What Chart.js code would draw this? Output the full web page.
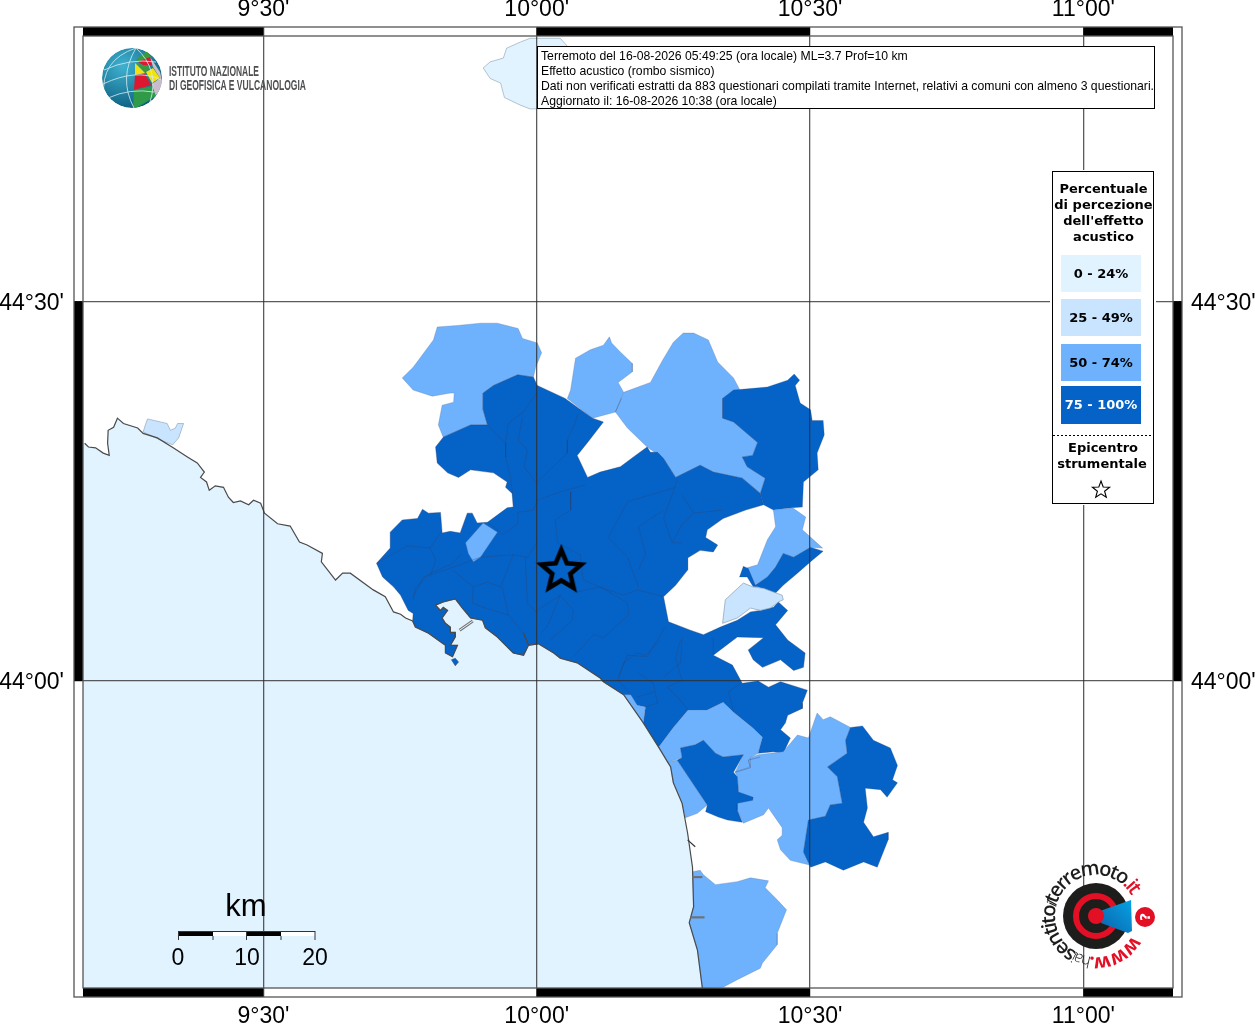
<!DOCTYPE html>
<html><head><meta charset="utf-8">
<style>html,body{margin:0;padding:0;background:#fff}#wrap{position:relative;width:1255px;height:1024px;overflow:hidden}canvas{position:absolute;left:0;top:0}svg{position:absolute;left:0;top:0}</style>
<script src="https://cdn.jsdelivr.net/npm/chart.js@4/dist/chart.umd.min.js"></script>
</head><body><div id="wrap"><canvas id="c" width="1255" height="1024"></canvas>
<svg width="1255" height="1024" viewBox="0 0 1255 1024" xmlns="http://www.w3.org/2000/svg">
<defs>
<radialGradient id="gl" cx="35%" cy="30%" r="80%"><stop offset="0" stop-color="#3fb2d0"/><stop offset="1" stop-color="#0a587a"/></radialGradient>
<clipPath id="glc"><circle cx="132" cy="78" r="30"/></clipPath>
<linearGradient id="cone" x1="0" y1="1" x2="1" y2="0"><stop offset="0" stop-color="#0b62ad"/><stop offset="1" stop-color="#06a3e3"/></linearGradient>
<path id="ring" d="M1132.2 935.2 A41 41 0 1 1 1133.2 898.7"/>
</defs>
<!-- INGV logo -->
<g clip-path="url(#glc)">
<circle cx="132" cy="78" r="30" fill="url(#gl)"/>
<polygon points="150,57 160,72 163,85 155,97 152,84 160,78 153,67" fill="#c9bccb"/>
<polygon points="136,60 147,51 151,57 138,62" fill="#3a9a3e"/>
<polygon points="138,62 150,57 152,65 143,65" fill="#dd1730"/>
<polygon points="137,63 143,65 151,67 145,72" fill="#3a9a3e"/>
<polygon points="135,63 145,73 135,75" fill="#f1e20c"/>
<polygon points="146,72 153,68 160,78 152,83" fill="#f1e20c"/>
<polygon points="135,75 145,74 151,85 134,90" fill="#dd1730"/>
<polygon points="134,90 152,86 156,96 133,110" fill="#2f9a47"/>
<g fill="none" stroke="#d8eef2" stroke-width="0.8">
<path d="M104 70 Q130 58 156 62M103 84 Q120 76 134 75 Q150 74 161 80M108 98 Q130 88 154 92"/>
<path d="M136 48 Q118 78 134 108M136 48 Q100 60 104 96M136 48 Q160 70 150 102"/></g>
</g>
<g fill="#4e4f51" font-family="'Liberation Sans Narrow','Liberation Sans'" font-size="14" font-weight="700">
<text x="169" y="76" textLength="90" lengthAdjust="spacingAndGlyphs">ISTITUTO NAZIONALE</text>
<text x="169" y="90" textLength="137" lengthAdjust="spacingAndGlyphs">DI GEOFISICA E VULCANOLOGIA</text>
</g>
<!-- info box -->
<rect x="537.5" y="46.5" width="617" height="62" fill="#fff" stroke="#000"/>
<g font-family="'Liberation Sans'" font-size="12.23" fill="#000">
<text x="541" y="60">Terremoto del 16-08-2026 05:49:25 (ora locale) ML=3.7 Prof=10 km</text>
<text x="541" y="75">Effetto acustico (rombo sismico)</text>
<text x="541" y="90" textLength="613" lengthAdjust="spacingAndGlyphs">Dati non verificati estratti da 883 questionari compilati tramite Internet, relativi a comuni con almeno 3 questionari.</text>
<text x="541" y="105">Aggiornato il: 16-08-2026 10:38 (ora locale)</text>
</g>
<!-- legend -->
<rect x="1050" y="170" width="106" height="335" fill="#fff"/>
<rect x="1052.5" y="171.5" width="101" height="332" fill="#fff" stroke="#000"/>
<g font-family="'DejaVu Sans'" font-size="13" font-weight="700" text-anchor="middle" fill="#000">
<text x="1103.5" y="193">Percentuale</text><text x="1103.5" y="209">di percezione</text><text x="1103.5" y="225">dell'effetto</text><text x="1103.5" y="241">acustico</text>
<rect x="1061" y="255" width="80" height="37" fill="#e1f3ff"/><text x="1101" y="278">0 - 24%</text>
<rect x="1061" y="299" width="80" height="37" fill="#c8e4ff"/><text x="1101" y="322">25 - 49%</text>
<rect x="1061" y="344" width="80" height="37" fill="#6eb1fd"/><text x="1101" y="367">50 - 74%</text>
<rect x="1061" y="386" width="80" height="38" fill="#0563c8"/><text x="1101" y="409" fill="#fff">75 - 100%</text>
<line x1="1053" x2="1153" y1="435.5" y2="435.5" stroke="#000" stroke-dasharray="2 2"/>
<text x="1103" y="452">Epicentro</text><text x="1102" y="468">strumentale</text>
</g>
<polygon points="1101,481 1103.2,487 1109.6,487.2 1104.6,491.2 1106.3,497.3 1101,493.8 1095.7,497.3 1097.4,491.2 1092.4,487.2 1098.8,487" fill="#fff" stroke="#000" stroke-width="1.1"/>
<!-- scale bar -->
<g>
<rect x="178" y="931" width="35" height="5" fill="#000"/><rect x="213" y="931" width="33" height="5" fill="#fff"/><rect x="246" y="931" width="35" height="5" fill="#000"/><rect x="281" y="931" width="34" height="5" fill="#fff"/>
<path d="M178.5 931V940M213 936V940M246.5 931V940M281 936V940M315 931V940M178 931.5H315" stroke="#333" fill="none"/>
<g font-family="'Liberation Sans'" font-size="23" text-anchor="middle" fill="#000"><text x="178" y="965">0</text><text x="247" y="965">10</text><text x="315" y="965">20</text>
<text x="246" y="916" font-size="31">km</text></g>
</g>
<!-- hai sentito logo -->
<circle cx="1096" cy="916" r="33" fill="#1d1d1b"/>
<circle cx="1096" cy="916" r="20" fill="none" stroke="#e30f25" stroke-width="6"/>
<polygon points="1100,911 1131,900 1132,931 1128,933 1101,923" fill="url(#cone)"/>
<circle cx="1096" cy="916" r="8" fill="#e30f25"/>
<circle cx="1145" cy="917" r="10" fill="#e30f25"/>
<text x="1145" y="922" font-family="'DejaVu Sans'" font-size="14" font-weight="700" text-anchor="middle" fill="#fff" transform="rotate(-90 1145 917)">?</text>
<text font-family="'Open Sans'" font-size="20" font-weight="600" fill="#1d1d1b"><textPath href="#ring" textLength="216" lengthAdjust="spacing"><tspan fill="#e30f25" font-weight="700">www.</tspan><tspan font-size="16" font-weight="300">hai</tspan>sentito<tspan font-size="14" font-style="italic" font-weight="400">il</tspan>terremoto<tspan fill="#e30f25">.it</tspan></textPath></text>
</svg></div>
<script>
// Map extent and graticule (degrees)
const lonRange = [9.170, 11.164];
const latRange = [43.596, 44.849];
const lonTicks = [9.5, 10, 10.5, 11];
const latTicks = [44, 44.5];

// Coastline, lon/lat
const coastline = [[9.173,44.313],[9.180,44.308],[9.193,44.307],[9.207,44.300],[9.218,44.297],[9.215,44.313],[9.216,44.330],[9.226,44.334],[9.233,44.346],[9.244,44.339],[9.270,44.333],[9.280,44.326],[9.306,44.320],[9.335,44.307],[9.361,44.295],[9.379,44.287],[9.392,44.275],[9.385,44.268],[9.396,44.262],[9.401,44.251],[9.412,44.257],[9.427,44.255],[9.436,44.242],[9.445,44.235],[9.458,44.237],[9.473,44.232],[9.482,44.238],[9.495,44.234],[9.502,44.221],[9.526,44.207],[9.549,44.204],[9.566,44.183],[9.580,44.179],[9.608,44.168],[9.606,44.157],[9.632,44.133],[9.645,44.142],[9.659,44.142],[9.701,44.120],[9.723,44.111],[9.738,44.091],[9.751,44.088],[9.760,44.083],[9.773,44.079],[9.778,44.071],[9.802,44.063],[9.827,44.050],[9.833,44.047],[9.833,44.037],[9.846,44.032],[9.855,44.047],[9.842,44.047],[9.851,44.058],[9.851,44.064],[9.842,44.064],[9.842,44.071],[9.833,44.076],[9.827,44.083],[9.837,44.093],[9.829,44.097],[9.824,44.093],[9.815,44.100],[9.829,44.104],[9.851,44.108],[9.864,44.096],[9.879,44.083],[9.901,44.080],[9.906,44.070],[9.928,44.058],[9.957,44.037],[9.976,44.034],[9.985,44.047],[9.976,44.063],[9.985,44.047],[10.003,44.049],[10.031,44.037],[10.043,44.030],[10.074,44.024],[10.116,44.004],[10.122,43.999],[10.159,43.982],[10.195,43.945],[10.223,43.913],[10.245,43.887],[10.250,43.866],[10.266,43.839],[10.276,43.800],[10.285,43.755],[10.287,43.703],[10.279,43.682],[10.294,43.646],[10.303,43.596]];
const seaCorners = [[9.170,43.596],[9.170,44.313]];

// Municipalities by perception class, lon/lat outlines
const lightestNorth = [[9.902,44.807],[9.915,44.815],[9.939,44.820],[9.945,44.833],[9.970,44.841],[9.988,44.846],[10.043,44.846],[10.058,44.834],[10.043,44.754],[9.988,44.753],[9.970,44.758],[9.941,44.768],[9.934,44.787],[9.915,44.793]];
const paleCoast = [[9.288,44.345],[9.312,44.341],[9.324,44.339],[9.330,44.330],[9.339,44.333],[9.343,44.339],[9.354,44.339],[9.345,44.320],[9.334,44.311],[9.312,44.317],[9.280,44.328],[9.284,44.337]];
const paleLake = [[10.378,44.129],[10.395,44.124],[10.415,44.122],[10.449,44.113],[10.451,44.107],[10.442,44.104],[10.427,44.096],[10.409,44.093],[10.391,44.096],[10.367,44.083],[10.340,44.076],[10.345,44.107]];
const midNW = [[9.818,44.466],[9.855,44.468],[9.897,44.471],[9.928,44.471],[9.966,44.464],[9.974,44.451],[10.001,44.445],[10.009,44.432],[9.998,44.413],[9.994,44.400],[9.965,44.403],[9.921,44.389],[9.902,44.379],[9.902,44.357],[9.910,44.337],[9.879,44.337],[9.829,44.321],[9.820,44.337],[9.827,44.363],[9.848,44.367],[9.849,44.379],[9.842,44.379],[9.809,44.375],[9.774,44.383],[9.754,44.399],[9.774,44.413],[9.811,44.449]];
const midNorth = [[10.056,44.372],[10.062,44.383],[10.071,44.425],[10.098,44.436],[10.122,44.442],[10.133,44.453],[10.137,44.445],[10.153,44.433],[10.175,44.418],[10.175,44.407],[10.149,44.393],[10.159,44.380],[10.144,44.354],[10.102,44.346]];
const midNE = [[10.159,44.380],[10.208,44.393],[10.230,44.422],[10.250,44.446],[10.268,44.458],[10.287,44.458],[10.314,44.449],[10.331,44.420],[10.360,44.399],[10.371,44.384],[10.340,44.372],[10.340,44.346],[10.360,44.341],[10.404,44.314],[10.395,44.297],[10.376,44.295],[10.385,44.282],[10.418,44.267],[10.409,44.247],[10.376,44.267],[10.323,44.275],[10.299,44.284],[10.254,44.268],[10.232,44.293],[10.202,44.308],[10.166,44.333],[10.144,44.354]];
const midEast = [[10.433,44.225],[10.468,44.228],[10.492,44.216],[10.486,44.199],[10.523,44.175],[10.501,44.176],[10.470,44.163],[10.451,44.168],[10.437,44.150],[10.422,44.137],[10.400,44.126],[10.385,44.149],[10.404,44.153],[10.422,44.186],[10.437,44.203]];
const midWest = [[9.902,44.208],[9.928,44.196],[9.897,44.163],[9.884,44.157],[9.875,44.168],[9.870,44.182]];
const midStrip = [[10.159,43.982],[10.172,43.982],[10.184,43.968],[10.199,43.966],[10.195,43.945]];
const midSouthA = [[10.223,43.913],[10.250,43.939],[10.277,43.962],[10.312,43.962],[10.341,43.972],[10.360,43.959],[10.396,43.938],[10.413,43.926],[10.405,43.905],[10.391,43.899],[10.391,43.887],[10.363,43.880],[10.378,43.903],[10.341,43.900],[10.327,43.905],[10.305,43.922],[10.290,43.916],[10.263,43.912],[10.266,43.899],[10.239,43.893]];
const midSouthB = [[10.239,43.893],[10.257,43.896],[10.312,43.837],[10.294,43.826],[10.272,43.820],[10.266,43.839],[10.250,43.866],[10.245,43.887]];
const midSouthC = [[10.363,43.880],[10.391,43.887],[10.391,43.899],[10.405,43.903],[10.451,43.907],[10.477,43.929],[10.497,43.925],[10.513,43.958],[10.524,43.949],[10.537,43.953],[10.574,43.939],[10.565,43.922],[10.568,43.905],[10.532,43.887],[10.550,43.874],[10.559,43.839],[10.537,43.837],[10.528,43.822],[10.497,43.817],[10.488,43.775],[10.499,43.758],[10.464,43.764],[10.446,43.778],[10.440,43.791],[10.449,43.797],[10.449,43.807],[10.424,43.833],[10.415,43.824],[10.378,43.813],[10.367,43.830],[10.367,43.839],[10.369,43.854],[10.367,43.874]];
const midSouthD = [[10.285,43.749],[10.299,43.751],[10.305,43.745],[10.327,43.732],[10.367,43.736],[10.391,43.741],[10.424,43.737],[10.418,43.728],[10.440,43.712],[10.457,43.699],[10.440,43.668],[10.440,43.653],[10.413,43.629],[10.409,43.622],[10.367,43.607],[10.341,43.597],[10.303,43.596],[10.294,43.646],[10.279,43.682],[10.287,43.703]];
const darkMain = [[9.921,44.389],[9.965,44.403],[9.994,44.400],[10.001,44.389],[10.052,44.372],[10.102,44.346],[10.122,44.341],[10.093,44.314],[10.074,44.297],[10.093,44.268],[10.116,44.275],[10.153,44.282],[10.177,44.295],[10.202,44.308],[10.208,44.301],[10.221,44.301],[10.232,44.293],[10.254,44.268],[10.299,44.284],[10.323,44.275],[10.376,44.267],[10.409,44.247],[10.415,44.232],[10.382,44.225],[10.341,44.214],[10.312,44.199],[10.309,44.189],[10.331,44.179],[10.323,44.170],[10.299,44.172],[10.276,44.162],[10.276,44.146],[10.254,44.126],[10.232,44.111],[10.241,44.078],[10.281,44.067],[10.305,44.061],[10.336,44.071],[10.367,44.080],[10.391,44.091],[10.409,44.093],[10.433,44.097],[10.442,44.104],[10.459,44.093],[10.437,44.074],[10.459,44.054],[10.491,44.037],[10.488,44.018],[10.470,44.014],[10.446,44.028],[10.413,44.018],[10.396,44.028],[10.387,44.041],[10.415,44.057],[10.367,44.058],[10.323,44.034],[10.358,44.021],[10.376,43.997],[10.405,44.000],[10.424,43.992],[10.446,43.999],[10.495,43.988],[10.486,43.971],[10.486,43.964],[10.459,43.955],[10.455,43.945],[10.446,43.936],[10.464,43.925],[10.451,43.905],[10.433,43.907],[10.405,43.905],[10.409,43.916],[10.413,43.926],[10.396,43.938],[10.360,43.959],[10.341,43.972],[10.312,43.962],[10.277,43.962],[10.250,43.939],[10.223,43.913],[10.195,43.945],[10.199,43.966],[10.184,43.968],[10.159,43.982],[10.122,43.999],[10.116,44.004],[10.074,44.024],[10.043,44.030],[10.031,44.037],[10.003,44.049],[9.985,44.047],[9.976,44.063],[9.985,44.047],[9.976,44.034],[9.957,44.037],[9.928,44.058],[9.906,44.070],[9.901,44.080],[9.879,44.083],[9.864,44.096],[9.851,44.108],[9.829,44.104],[9.815,44.100],[9.824,44.093],[9.829,44.097],[9.837,44.093],[9.827,44.083],[9.833,44.076],[9.842,44.071],[9.842,44.064],[9.851,44.064],[9.851,44.058],[9.842,44.047],[9.855,44.047],[9.846,44.032],[9.833,44.037],[9.833,44.047],[9.827,44.050],[9.802,44.063],[9.778,44.071],[9.773,44.079],[9.774,44.089],[9.765,44.093],[9.751,44.113],[9.738,44.124],[9.718,44.137],[9.707,44.155],[9.732,44.175],[9.732,44.196],[9.754,44.212],[9.782,44.214],[9.791,44.226],[9.802,44.221],[9.824,44.222],[9.827,44.195],[9.842,44.197],[9.860,44.195],[9.873,44.221],[9.882,44.221],[9.891,44.208],[9.910,44.209],[9.946,44.228],[9.957,44.229],[9.955,44.247],[9.943,44.255],[9.946,44.262],[9.921,44.274],[9.879,44.278],[9.857,44.268],[9.837,44.274],[9.818,44.287],[9.815,44.308],[9.829,44.321],[9.879,44.337],[9.910,44.337],[9.902,44.357],[9.902,44.379]];
const darkIsland = [[9.844,44.028],[9.851,44.030],[9.857,44.025],[9.851,44.020]];
const darkNE = [[10.340,44.372],[10.360,44.383],[10.422,44.387],[10.459,44.396],[10.471,44.404],[10.481,44.396],[10.473,44.389],[10.482,44.366],[10.501,44.357],[10.504,44.343],[10.524,44.343],[10.526,44.324],[10.513,44.300],[10.515,44.278],[10.488,44.262],[10.486,44.229],[10.468,44.228],[10.433,44.225],[10.415,44.232],[10.409,44.247],[10.418,44.267],[10.385,44.282],[10.376,44.295],[10.395,44.297],[10.404,44.314],[10.360,44.341],[10.340,44.346]];
const darkBand = [[10.501,44.176],[10.524,44.171],[10.501,44.157],[10.477,44.142],[10.451,44.126],[10.433,44.113],[10.405,44.124],[10.396,44.124],[10.385,44.137],[10.371,44.137],[10.378,44.151],[10.387,44.148],[10.400,44.126],[10.422,44.137],[10.437,44.150],[10.451,44.168],[10.470,44.163]];
const darkSouthA = [[10.263,43.912],[10.290,43.916],[10.305,43.922],[10.327,43.905],[10.341,43.900],[10.378,43.903],[10.360,43.880],[10.367,43.874],[10.369,43.854],[10.396,43.847],[10.395,43.843],[10.367,43.839],[10.367,43.830],[10.376,43.814],[10.349,43.817],[10.332,43.821],[10.309,43.828],[10.312,43.837],[10.257,43.896],[10.266,43.899]];
const darkSouthB = [[10.574,43.939],[10.596,43.941],[10.616,43.922],[10.647,43.912],[10.660,43.889],[10.651,43.870],[10.660,43.866],[10.641,43.847],[10.629,43.857],[10.601,43.859],[10.605,43.833],[10.598,43.814],[10.616,43.795],[10.643,43.801],[10.643,43.791],[10.623,43.755],[10.598,43.762],[10.561,43.751],[10.528,43.762],[10.501,43.755],[10.488,43.775],[10.497,43.817],[10.528,43.822],[10.537,43.837],[10.559,43.839],[10.550,43.874],[10.532,43.887],[10.568,43.905],[10.565,43.922]];

// Municipal boundaries inside the classes, lon/lat
const boundaries = [
[[10.001,44.380],[9.974,44.353],[9.948,44.339],[9.943,44.313],[9.943,44.295],[9.952,44.268],[9.957,44.242]],
[[9.910,44.337],[9.943,44.313]],
[[9.974,44.347],[9.966,44.317],[9.983,44.304],[9.977,44.282],[9.998,44.262]],
[[10.076,44.353],[10.067,44.334],[10.056,44.317],[10.056,44.300],[10.001,44.262]],
[[10.089,44.258],[10.043,44.249],[10.001,44.238],[9.994,44.225],[9.965,44.222],[9.966,44.208],[9.939,44.193],[9.910,44.209]],
[[10.062,44.249],[10.062,44.225],[10.034,44.212],[10.038,44.182],[10.080,44.166],[10.085,44.133],[10.122,44.122],[10.159,44.113],[10.184,44.120],[10.232,44.111]],
[[10.254,44.255],[10.166,44.236],[10.131,44.189],[10.166,44.163],[10.186,44.124]],
[[10.232,44.225],[10.186,44.203],[10.199,44.168],[10.186,44.146]],
[[10.257,44.264],[10.232,44.214],[10.248,44.182],[10.266,44.182]],
[[10.266,44.245],[10.287,44.221],[10.263,44.203],[10.248,44.182]],
[[10.287,44.221],[10.340,44.225]],
[[9.707,44.155],[9.763,44.178],[9.805,44.175],[9.815,44.159],[9.805,44.137]],
[[9.805,44.175],[9.824,44.195]],
[[9.864,44.168],[9.842,44.153],[9.805,44.142],[9.778,44.122],[9.774,44.107]],
[[9.774,44.111],[9.793,44.137],[9.848,44.150],[9.897,44.163],[9.957,44.166],[9.983,44.163],[10.001,44.182]],
[[9.846,44.146],[9.884,44.124],[9.910,44.130],[9.934,44.124],[9.957,44.166]],
[[9.884,44.124],[9.882,44.103],[9.902,44.097],[9.948,44.087],[9.937,44.124]],
[[9.948,44.087],[9.976,44.063]],
[[9.979,44.163],[9.983,44.103],[10.001,44.089]],
[[10.001,44.093],[10.043,44.113],[10.067,44.093],[10.065,44.080],[10.025,44.054]],
[[10.043,44.113],[10.019,44.071],[10.007,44.063]],
[[10.067,44.116],[10.116,44.124],[10.166,44.103],[10.168,44.087],[10.122,44.057],[10.104,44.061],[10.067,44.032]],
[[10.235,44.071],[10.202,44.032],[10.166,44.034],[10.149,44.005]],
[[10.266,44.057],[10.263,44.024],[10.232,44.005]],
[[10.323,44.034],[10.323,44.057]],
[[10.226,44.054],[10.199,44.034],[10.184,44.037],[10.159,44.024],[10.149,44.001],[10.172,43.982]],
[[10.186,44.011],[10.213,43.997],[10.217,43.986],[10.184,43.979]],
[[10.217,43.984],[10.221,43.971],[10.199,43.966]],
[[10.263,44.054],[10.254,44.030],[10.266,44.001],[10.239,43.992],[10.257,43.979],[10.277,43.962]],
[[10.373,43.997],[10.351,43.986],[10.360,43.959]],
[[10.363,43.880],[10.391,43.886],[10.387,43.896],[10.409,43.900]],
[[10.155,44.372],[10.144,44.354]]
];
const piers = [[[10.285,43.742],[10.303,43.742]],[[10.281,43.689],[10.307,43.689]]];
const jetty = [[10.276,43.791],[10.290,43.782]];
const breakwater = [[9.859,44.067],[9.883,44.079]];
const epicentre = [[10.045,44.145]];

// Class colours
const lightest = '#e1f3ff', pale = '#c8e4ff', mid = '#6eb1fd', dark = '#0563c8';

const poly = (pts, color, edge) => ({
  data: pts.concat([pts[0]]).map(([x, y]) => ({x, y})), showLine: true, fill: 'shape', tension: 0,
  backgroundColor: color, borderColor: edge, borderWidth: 0.8, pointRadius: 0
});
const line = (pts, color, width) => ({
  data: pts.map(([x, y]) => ({x, y})), showLine: true, fill: false, tension: 0,
  borderColor: color, borderWidth: width, pointRadius: 0
});

function starImage() {
  const s = 60, cv = document.createElement('canvas'); cv.width = s; cv.height = s;
  const g = cv.getContext('2d'), R = 21, r = 9.5;
  g.beginPath();
  for (let i = 0; i < 10; i++) {
    const a = -Math.PI / 2 + i * Math.PI / 5, q = i % 2 ? r : R;
    g.lineTo(s / 2 + q * Math.cos(a), s / 2 + q * Math.sin(a));
  }
  g.closePath(); g.lineWidth = 4.6; g.lineJoin = 'miter'; g.strokeStyle = '#000'; g.stroke();
  return cv;
}

const layers = [
  poly(coastline.concat(seaCorners), lightest, 'rgba(0,0,0,0)'),
  poly(lightestNorth, lightest, 'rgba(130,150,170,.7)'),
  poly(paleCoast, pale, 'rgba(130,150,170,.7)'),
  poly(midNW, mid, 'rgba(90,120,160,.4)'),
  poly(midNorth, mid, 'rgba(90,120,160,.4)'),
  poly(midNE, mid, 'rgba(90,120,160,.4)'),
  poly(darkMain, dark, 'rgba(40,60,100,.45)'),
  poly(darkIsland, dark, 'rgba(40,60,100,.6)'),
  poly(darkNE, dark, 'rgba(40,60,100,.3)'),
  poly(midEast, mid, 'rgba(90,120,160,.4)'),
  poly(darkBand, dark, 'rgba(40,60,100,.3)'),
  poly(paleLake, pale, 'rgba(130,150,170,.8)'),
  poly(midWest, mid, 'rgba(90,120,160,.4)'),
  poly(midStrip, mid, 'rgba(90,120,160,.4)'),
  poly(midSouthA, mid, 'rgba(90,120,160,.4)'),
  poly(midSouthB, mid, 'rgba(90,120,160,.4)'),
  poly(midSouthC, mid, 'rgba(90,120,160,.4)'),
  poly(midSouthD, mid, 'rgba(90,120,160,.4)'),
  poly(darkSouthA, dark, 'rgba(40,60,100,.3)'),
  poly(darkSouthB, dark, 'rgba(40,60,100,.3)'),
  ...boundaries.map(b => line(b, 'rgba(45,65,105,.42)', 0.8)),
  line(coastline, '#4a4a4a', 1.2),
  ...piers.map(b => line(b, '#6d7278', 2.2)),
  line(jetty, '#333', 1.2),
  line(breakwater, '#777', 3),
  line(breakwater, '#e1f3ff', 1),
  {data: epicentre.map(([x, y]) => ({x, y})), pointStyle: starImage(), pointRadius: 20, showLine: false}
];
const datasets = layers.slice().reverse();

const dms = v => { const d = Math.floor(v), m = Math.round((v - d) * 60); return d + '°' + String(m).padStart(2, '0') + "'"; };
const labelFont = {family: "'Liberation Sans'", size: 23};
const gridLine = 'rgba(45,45,45,.78)';
const axis = (pos, range, ticks, inArea, thick, pad, shift) => ({
  type: 'linear', position: pos, min: range[0], max: range[1], display: true,
  border: {display: false},
  grid: {color: gridLine, lineWidth: 1.3, z: 1, tickLength: 9, drawOnChartArea: inArea, drawTicks: true, tickColor: gridLine},
  ticks: {callback: dms, font: labelFont, color: '#000', padding: pad, labelOffset: shift, autoSkip: false, maxRotation: 0, minRotation: 0},
  afterBuildTicks: s => { s.ticks = ticks.map(value => ({value})); },
  afterFit: s => { if (pos === 'top' || pos === 'bottom') s.height = thick; else s.width = thick; }
});

const framePlugin = {
  id: 'frame',
  afterDraw(chart) {
    const g = chart.ctx, a = chart.chartArea, sx = chart.scales.x, sy = chart.scales.y, w = 9;
    g.save();
    const lonEdges = [lonRange[0], ...lonTicks, lonRange[1]].map(v => sx.getPixelForValue(v));
    const latEdges = [latRange[1], ...latTicks.slice().reverse(), latRange[0]].map(v => sy.getPixelForValue(v));
    g.fillStyle = '#000';
    for (let i = 0; i + 1 < lonEdges.length; i += 2) {
      g.fillRect(lonEdges[i], a.top - w, lonEdges[i + 1] - lonEdges[i], w);
      g.fillRect(lonEdges[i], a.bottom, lonEdges[i + 1] - lonEdges[i], w);
    }
    for (let i = 1; i + 1 < latEdges.length; i += 2) {
      g.fillRect(a.left - w, latEdges[i], w, latEdges[i + 1] - latEdges[i]);
      g.fillRect(a.right, latEdges[i], w, latEdges[i + 1] - latEdges[i]);
    }
    g.strokeStyle = '#555'; g.lineWidth = 1.3;
    g.strokeRect(a.left - w, a.top - w, a.right - a.left + 2 * w, a.bottom - a.top + 2 * w);
    g.strokeRect(a.left, a.top, a.right - a.left, a.bottom - a.top);
    g.restore();
  }
};

new Chart(document.getElementById('c'), {
  type: 'scatter',
  data: {datasets},
  plugins: [framePlugin],
  options: {
    responsive: false, animation: false, devicePixelRatio: 1,
    layout: {padding: 0},
    plugins: {legend: {display: false}, tooltip: {enabled: false}},
    scales: {
      x: axis('bottom', lonRange, lonTicks, true, 36, 6, 0),
      x2: axis('top', lonRange, lonTicks, false, 36, 4, 0),
      y: axis('left', latRange, latTicks, true, 83, 10, 2),
      y2: axis('right', latRange, latTicks, false, 82, 9, 2)
    }
  }
});
</script></body></html>
